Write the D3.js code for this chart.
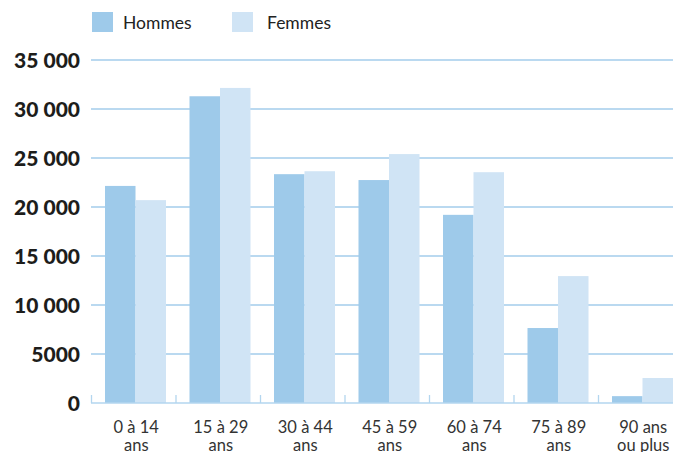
<!DOCTYPE html>
<html>
<head>
<meta charset="utf-8">
<script src="https://cdn.jsdelivr.net/npm/d3@7"></script>
<style>
  body { margin: 0; background: #fff; }
  text { font-family: Lato, "Open Sans", sans-serif; }
</style>
</head>
<body>
<div id="wrapper"></div>
<script>
// data
const categories = ['0 à 14 ans', '15 à 29 ans', '30 à 44 ans', '45 à 59 ans', '60 à 74 ans', '75 à 89 ans', '90 ans ou plus']
const categoryLines = [['0 à 14', 'ans'], ['15 à 29', 'ans'], ['30 à 44', 'ans'], ['45 à 59', 'ans'], ['60 à 74', 'ans'], ['75 à 89', 'ans'], ['90 ans', 'ou plus']]
const series = ['Hommes', 'Femmes']
const hommes = [22150, 31300, 23350, 22750, 19200, 7650, 700]
const femmes = [20700, 32150, 23650, 25400, 23550, 12950, 2550]
const yTicks = [0, 5000, 10000, 15000, 20000, 25000, 30000, 35000]

const colors = { Hommes: '#9ecaea', Femmes: '#d0e4f5' }

const dataset = categories.map((c, i) => ({
  category: c,
  lines: categoryLines[i],
  values: [{ key: 'Hommes', value: hommes[i] }, { key: 'Femmes', value: femmes[i] }]
}))

// dimensions
let dimensions = {
  width: 673,
  height: 452,
  margin: { top: 60, right: 0, bottom: 49, left: 91 }
}
dimensions.boundedWidth = dimensions.width - dimensions.margin.left - dimensions.margin.right
dimensions.boundedHeight = dimensions.height - dimensions.margin.top - dimensions.margin.bottom

const wrapper = d3.select('#wrapper')
  .append('svg')
    .attr('width', dimensions.width)
    .attr('height', dimensions.height)

const bounds = wrapper.append('g')
  .attr('transform', `translate(${dimensions.margin.left}, ${dimensions.margin.top})`)

// scales
const step = 84.5
const x0 = d3.scaleBand()
  .domain(categories)
  .range([0, step * categories.length])

const x1 = d3.scaleBand()
  .domain(series)
  .range([14, 75])

const yScale = d3.scaleLinear()
  .domain([0, 35000])
  .range([dimensions.boundedHeight, 0])

// grid
bounds.append('g')
  .selectAll('line')
  .data(yTicks.filter(d => d > 0))
  .join('line')
    .attr('x1', 0)
    .attr('x2', dimensions.boundedWidth)
    .attr('y1', d => yScale(d))
    .attr('y2', d => yScale(d))
    .attr('stroke', '#a3cdeb')
    .attr('stroke-width', 1.3)

// y labels
const fmt = d => d >= 10000 ? d3.format(',')(d).replace(/,/g, ' ') : String(d)
bounds.append('g')
  .selectAll('text')
  .data(yTicks)
  .join('text')
    .attr('x', -11)
    .attr('y', d => yScale(d))
    .attr('dy', '0.38em')
    .attr('text-anchor', 'end')
    .attr('font-size', 21)
    .attr('font-weight', 900)
    .attr('fill', '#1d1d1b')
    .text(fmt)

// bars
const groups = bounds.append('g')
  .selectAll('g')
  .data(dataset)
  .join('g')
    .attr('transform', d => `translate(${x0(d.category)}, 0)`)

groups.selectAll('rect')
  .data(d => d.values)
  .join('rect')
    .attr('x', d => x1(d.key))
    .attr('width', x1.bandwidth())
    .attr('y', d => yScale(d.value))
    .attr('height', d => yScale(0) - yScale(d.value))
    .attr('fill', d => colors[d.key])

// x axis
const xAxis = bounds.append('g')
  .attr('transform', `translate(0, ${dimensions.boundedHeight})`)

xAxis.append('line')
  .attr('x1', 0)
  .attr('x2', dimensions.boundedWidth)
  .attr('stroke', '#b3d6ef')
  .attr('stroke-width', 1.6)

xAxis.selectAll('.tick')
  .data(categories)
  .join('line')
    .attr('class', 'tick')
    .attr('x1', d => x0(d) + 0.5)
    .attr('x2', d => x0(d) + 0.5)
    .attr('y1', 0)
    .attr('y2', -8)
    .attr('stroke', '#b3d6ef')
    .attr('stroke-width', 1.3)

const labels = xAxis.selectAll('.label')
  .data(dataset)
  .join('text')
    .attr('class', 'label')
    .attr('x', d => x0(d.category) + x0.bandwidth() / 2 + 3)
    .attr('y', 30)
    .attr('text-anchor', 'middle')
    .attr('font-size', 16.5)
    .attr('fill', '#333')

labels.selectAll('tspan')
  .data(d => d.lines)
  .join('tspan')
    .attr('x', function() { return d3.select(this.parentNode).attr('x') })
    .attr('dy', (d, i) => i === 0 ? 0 : 18)
    .text(d => d)

// legend
const legend = wrapper.append('g')
  .selectAll('g')
  .data(series)
  .join('g')
    .attr('transform', (d, i) => `translate(${92 + i * 140}, 12)`)

legend.append('rect')
  .attr('width', 21)
  .attr('height', 20)
  .attr('fill', d => colors[d])

legend.append('text')
  .attr('x', d => d === 'Hommes' ? 31 : 35)
  .attr('y', 17)
  .attr('font-size', 17.5)
  .attr('fill', '#222')
  .text(d => d)
</script>
</body>
</html>
